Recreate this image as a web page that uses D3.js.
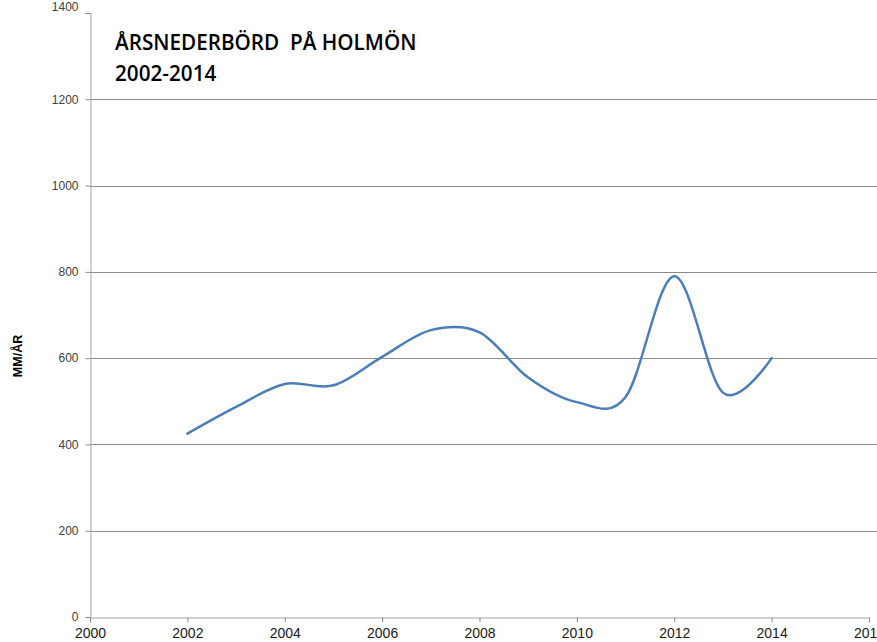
<!DOCTYPE html>
<html>
<head>
<meta charset="utf-8">
<script src="https://cdn.jsdelivr.net/npm/d3@7"></script>
<style>
  body { margin: 0; background: #fff; }
  svg { display: block; }
</style>
</head>
<body>
<div id="chart"></div>
<script>
// Yearly precipitation, Holmön (mm/year)
const years = [2002, 2003, 2004, 2005, 2006, 2007, 2008, 2009, 2010, 2011, 2012, 2013, 2014];
const precipitation = [425, 487, 540, 537, 603, 665, 660, 555, 498, 510, 790, 520, 600];
const xTicks = [2000, 2002, 2004, 2006, 2008, 2010, 2012, 2014, 2016];
const yTicks = [0, 200, 400, 600, 800, 1000, 1200, 1400];

const width = 877;
const height = 642;
const margin = { top: 13, right: 8, bottom: 25, left: 90 };

const svg = d3.select('#chart')
  .append('svg')
  .attr('width', width)
  .attr('height', height);

// Scales
const x = d3.scaleLinear()
  .domain([2000, 2016])
  .range([margin.left, width - margin.right]);

const y = d3.scaleLinear()
  .domain([0, 1400])
  .range([height - margin.bottom, margin.top]);

// Gridlines (no line drawn at the top value)
svg.append('g')
  .selectAll('line')
  .data(yTicks.filter(d => d > 0 && d < 1400))
  .enter()
  .append('line')
  .attr('x1', margin.left)
  .attr('x2', width)
  .attr('y1', d => Math.round(y(d)) + 0.5)
  .attr('y2', d => Math.round(y(d)) + 0.5)
  .attr('stroke', '#8c8c8c')
  .attr('stroke-width', 1);

// Y axis
const yAxis = svg.append('g')
  .attr('transform', `translate(${margin.left + 0.5},0)`)
  .call(d3.axisLeft(y).tickValues(yTicks).tickFormat(d3.format('d')).tickSize(5).tickPadding(7));

yAxis.select('.domain').attr('stroke', '#a6a6a6');
yAxis.selectAll('.tick line').attr('stroke', '#8c8c8c');
yAxis.selectAll('text')
  .style('font-family', 'Arial, "Liberation Sans", sans-serif')
  .style('font-size', '12px')
  .style('fill', '#404040');

// top label sits partly above the picture in the reference
yAxis.selectAll('.tick')
  .filter(d => d === 1400)
  .select('text')
  .attr('dy', '-0.2em');

// X axis
const xAxis = svg.append('g')
  .attr('transform', `translate(0,${Math.round(y(0)) + 0.5})`)
  .call(d3.axisBottom(x).tickValues(xTicks).tickFormat(d3.format('d')).tickSize(5).tickPadding(6));

xAxis.select('.domain').attr('stroke', '#a6a6a6');
xAxis.selectAll('.tick line').attr('stroke', '#8c8c8c');
xAxis.selectAll('text')
  .style('font-family', '"Liberation Sans Narrow", Arial, sans-serif')
  .style('font-size', '14px')
  .style('fill', '#1a1a1a');

// Smoothed line
const line = d3.line()
  .x((d, i) => x(years[i]))
  .y(d => y(d))
  .curve(d3.curveCardinal.tension(0));

svg.append('path')
  .datum(precipitation)
  .attr('fill', 'none')
  .attr('stroke', '#4a7ebb')
  .attr('stroke-width', 2.5)
  .attr('stroke-linecap', 'round')
  .attr('d', line);

// Title
const title = svg.append('text')
  .style('font-family', '"Open Sans", "Noto Sans", sans-serif')
  .style('font-weight', 600)
  .style('font-size', '20.7px')
  .style('fill', '#000');

title.append('tspan').attr('x', 115).attr('y', 50).text('ÅRSNEDERBÖRD\u00a0 PÅ HOLMÖN');
title.append('tspan').attr('x', 115).attr('y', 81).text('2002-2014');

// Y axis title
svg.append('text')
  .attr('transform', `translate(22,${356}) rotate(-90)`)
  .attr('text-anchor', 'middle')
  .style('font-family', '"Liberation Sans", Arial, sans-serif')
  .style('font-weight', 'bold')
  .style('font-size', '12.5px')
  .style('fill', '#000')
  .text('MM/ÅR');
</script>
</body>
</html>
